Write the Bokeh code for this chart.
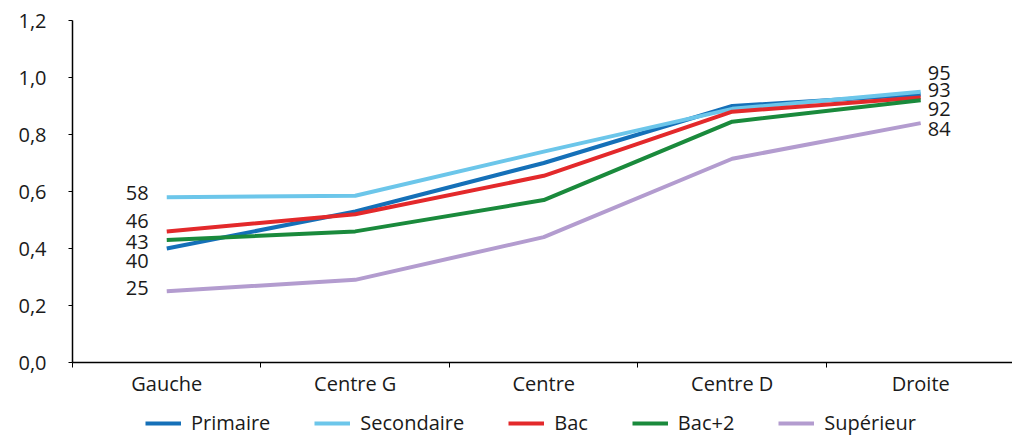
from bokeh.plotting import figure
from bokeh.layouts import column
from bokeh.models import (Range1d, FixedTicker, CustomJSTickFormatter, Legend,
                          LegendItem, ColumnDataSource, LinearAxis)
from bokeh.core.properties import value
from bokeh.embed import file_html
from bokeh.resources import INLINE

# ---- data ----
categories = ["Gauche", "Centre G", "Centre", "Centre D", "Droite"]
series_names = ["Primaire", "Secondaire", "Bac", "Bac+2", "Supérieur"]
primaire = [0.40, 0.53, 0.70, 0.90, 0.94]
secondaire = [0.58, 0.585, 0.74, 0.89, 0.95]
bac = [0.46, 0.52, 0.655, 0.88, 0.93]
bac2 = [0.43, 0.46, 0.57, 0.845, 0.92]
superieur = [0.25, 0.29, 0.44, 0.715, 0.84]
yticks = [0.0, 0.2, 0.4, 0.6, 0.8, 1.0, 1.2]
right_labelled = [False, True, True, True, True]

# ---- styles ----
colors = ["#1570b8", "#6cc6ea", "#e3292b", "#1a8a3c", "#b39ccf"]
left_nudge = [12, -4, -10, 2, -3]      # px, de-overlap of start labels
right_nudge = [0, -19, -7, 9, 6]       # px, de-overlap of end labels
FONT = "Open Sans"
FS = "20px"

series = [primaire, secondaire, bac, bac2, superieur]
xs = [i + 0.5 for i in range(len(categories))]

p = figure(width=1012, height=405, output_backend="svg", toolbar_location=None,
           x_range=Range1d(0, 4.987), y_range=Range1d(0, 1.2),
           min_border_left=72, min_border_top=20, min_border_right=0,
           min_border_bottom=43, x_axis_type=None)
p.outline_line_color = None
p.grid.visible = False
p.background_fill_color = "white"
p.border_fill_color = "white"

for name, vals, col in zip(series_names, series, colors):
    p.line(xs, vals, line_color=col, line_width=4)

# data labels
lx, ly, lt, lxo, lyo = [], [], [], [], []
for i, vals in enumerate(series):
    lx.append(xs[0]); ly.append(vals[0]); lt.append(str(round(vals[0] * 100)))
    lxo.append(-18); lyo.append(left_nudge[i])
src_l = ColumnDataSource(dict(x=lx, y=ly, t=lt, xo=lxo, yo=lyo))
p.text("x", "y", text="t", x_offset="xo", y_offset="yo", source=src_l,
       text_align="right", text_baseline="middle", text_font=value(FONT),
       text_font_size=FS, text_color="#1a1a1a")

rx, ry, rt, rxo, ryo = [], [], [], [], []
for i, vals in enumerate(series):
    if right_labelled[i]:
        rx.append(xs[-1]); ry.append(vals[-1]); rt.append(str(round(vals[-1] * 100)))
        rxo.append(7); ryo.append(right_nudge[i])
src_r = ColumnDataSource(dict(x=rx, y=ry, t=rt, xo=rxo, yo=ryo))
p.text("x", "y", text="t", x_offset="xo", y_offset="yo", source=src_r,
       text_align="left", text_baseline="middle", text_font=value(FONT),
       text_font_size=FS, text_color="#1a1a1a")

# y axis
ya = p.yaxis[0]
ya.ticker = FixedTicker(ticks=yticks)
ya.formatter = CustomJSTickFormatter(code="return tick.toFixed(1).replace('.', ',');")
ya.major_tick_out = 4
ya.major_tick_in = 0
ya.minor_tick_line_color = None
ya.major_label_standoff = 22
ya.axis_line_width = 1.5
ya.axis_line_color = "black"
ya.major_tick_line_color = "black"
ya.major_label_text_font = FONT
ya.major_label_text_font_size = FS
ya.major_label_text_color = "#1a1a1a"

# x axis (categories centred, ticks between)
xa = LinearAxis(ticker=FixedTicker(ticks=xs, minor_ticks=list(range(len(categories) + 1))),
                major_label_overrides={x: c for x, c in zip(xs, categories)})
xa.major_tick_line_color = None
xa.major_tick_out = 0
xa.major_tick_in = 0
xa.minor_tick_out = 5
xa.minor_tick_in = 0
xa.minor_tick_line_color = "black"
xa.axis_line_width = 1.5
xa.axis_line_color = "black"
xa.major_label_standoff = 2
xa.major_label_text_font = FONT
xa.major_label_text_font_size = FS
xa.major_label_text_color = "#1a1a1a"
p.add_layout(xa, "below")

# legend strip (its frame is aligned with the main frame, left = 72px)
leg = figure(width=1012, height=36, output_backend="svg", toolbar_location=None,
             x_range=Range1d(0, 1), y_range=Range1d(10, 11),
             min_border=0, x_axis_type=None, y_axis_type=None)
leg.outline_line_color = None
leg.grid.visible = False
items = []
for name, vals, col in zip(series_names, series, colors):
    lr = leg.line(xs, vals, line_color=col, line_width=4)  # out of view, legend only
    items.append(LegendItem(label=name, renderers=[lr]))
legend = Legend(items=items, orientation="horizontal", location=(73, 5),
                label_text_font=FONT, label_text_font_size=FS,
                label_text_color="#1a1a1a", label_height=20,
                glyph_width=36, glyph_height=20, label_standoff=10, spacing=44,
                border_line_color=None, background_fill_alpha=0,
                padding=0, margin=0)
leg.add_layout(legend, "center")

open("out.html", "w").write(file_html(column(p, leg, spacing=0), INLINE))
